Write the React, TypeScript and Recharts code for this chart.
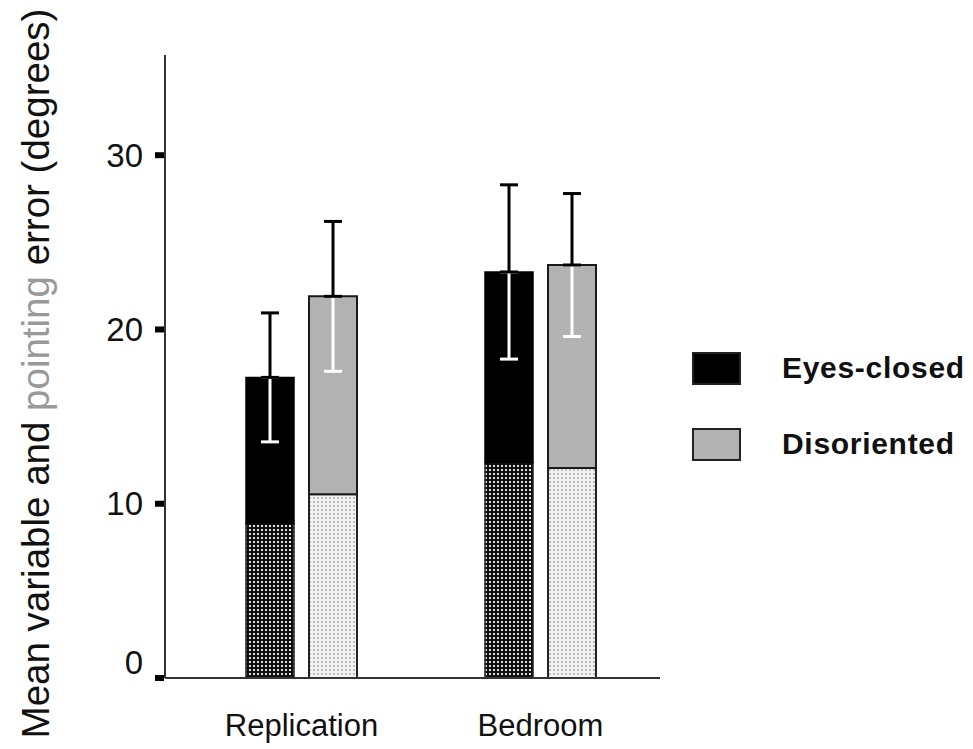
import { BarChart, Bar, XAxis, YAxis, ErrorBar, Legend, Label } from 'recharts';

// values (degrees)
const conditions = ['Replication', 'Bedroom'];
const eyesClosedVariable = [8.85, 12.35];
const eyesClosedTotal = [17.25, 23.3];
const eyesClosedSem = [3.7, 5.0];
const disorientedVariable = [10.55, 12.05];
const disorientedTotal = [21.9, 23.7];
const disorientedSem = [4.3, 4.1];
const yTicks = [0, 10, 20, 30];
const legendItems = [
  { label: 'Eyes-closed', fill: '#000000' },
  { label: 'Disoriented', fill: '#b2b2b2' },
];

const data = conditions.map((name, i) => ({
  name,
  ecBase: eyesClosedVariable[i],
  ecTop: eyesClosedTotal[i] - eyesClosedVariable[i],
  ecErr: eyesClosedSem[i],
  disBase: disorientedVariable[i],
  disTop: disorientedTotal[i] - disorientedVariable[i],
  disErr: disorientedSem[i],
}));

const font = '"Liberation Sans", Arial, sans-serif';

function YLabel(props: any) {
  const vb = props.viewBox || { x: 65, y: 55, height: 623 };
  const cx = 35;
  const cy = vb.y + vb.height / 2 + 7;
  return (
    <text
      x={cx}
      y={cy}
      transform={`rotate(-90, ${cx}, ${cy})`}
      textAnchor="middle"
      dominantBaseline="central"
      fontFamily={font}
      fontSize={38.5}
      fill="#111"
    >
      Mean variable and <tspan fill="#999">pointing</tspan> error (degrees)
    </text>
  );
}

// tick label plus the small square mark left of the axis
function YTick(props: any) {
  const { x, y, payload } = props;
  // the zero label sits a little above its tick in the original
  const dy = payload.value === 0 ? -16 : 0;
  return (
    <g>
      <rect x={x + 12} y={y - 3} width={9} height={6} fill="#000" />
      <text x={x} y={y + dy} textAnchor="end" dominantBaseline="central" fontSize={33} fill="#111" fontFamily={font}>
        {payload.value}
      </text>
    </g>
  );
}

function LegendBox() {
  return (
    <div style={{ fontFamily: font }}>
      {legendItems.map((item, i) => (
        <div
          key={item.label}
          style={{ display: 'flex', alignItems: 'center', height: 34, marginBottom: i === 0 ? 42 : 0 }}
        >
          <div
            style={{
              width: 49,
              height: 33,
              boxSizing: 'border-box',
              background: item.fill,
              border: '2px solid #222',
            }}
          />
          <span style={{ marginLeft: 41, fontSize: 30, fontWeight: 'bold', letterSpacing: 0.7, color: '#111' }}>
            {item.label}
          </span>
        </div>
      ))}
    </div>
  );
}

export default function App() {
  return (
    <div style={{ position: 'absolute', left: 0, top: 0, background: '#fff' }}>
      <BarChart
        width={973}
        height={749}
        data={data}
        margin={{ top: 55, right: 313, bottom: 11, left: 65 }}
        barSize={48}
        barGap={15}
      >
        <defs>
          <pattern id="ecHatch" width="4" height="4" patternUnits="userSpaceOnUse">
            <rect width="4" height="4" fill="#111" />
            <rect x="1" y="1" width="2" height="2" fill="#e0e0e0" />
          </pattern>
          <pattern id="disHatch" width="4" height="4" patternUnits="userSpaceOnUse">
            <rect width="4" height="4" fill="#f2f2f2" />
            <rect x="1" y="1" width="2" height="2" fill="#bbbbbb" />
          </pattern>
        </defs>
        <XAxis
          dataKey="name"
          height={60}
          padding={{ left: 17, right: 0 }}
          axisLine={{ stroke: '#333', strokeWidth: 2 }}
          tickLine={false}
          tickMargin={30}
          tick={{ fontSize: 31, fill: '#111', fontFamily: font }}
        />
        <YAxis
          width={100}
          domain={[0, 35.75]}
          ticks={yTicks}
          interval={0}
          axisLine={{ stroke: '#333', strokeWidth: 2 }}
          tickLine={false}
          tickSize={8}
          tickMargin={14}
          tick={YTick}
        >
          <Label content={YLabel} />
        </YAxis>
        <Legend
          layout="vertical"
          align="center"
          verticalAlign="middle"
          wrapperStyle={{ left: 692, top: 351, width: 281 }}
          content={LegendBox}
        />
        <Bar dataKey="ecBase" stackId="ec" fill="url(#ecHatch)" stroke="#222" strokeWidth={1.5} isAnimationActive={false} />
        <Bar dataKey="ecTop" stackId="ec" fill="#000" stroke="#000" strokeWidth={1.5} isAnimationActive={false}>
          <ErrorBar dataKey={(d: any) => [d.ecErr, 0]} width={9} stroke="#fff" strokeWidth={3} isAnimationActive={false} />
          <ErrorBar dataKey={(d: any) => [0, d.ecErr]} width={9} stroke="#000" strokeWidth={3} isAnimationActive={false} />
        </Bar>
        <Bar dataKey="disBase" stackId="dis" fill="url(#disHatch)" stroke="#222" strokeWidth={2} isAnimationActive={false} />
        <Bar dataKey="disTop" stackId="dis" fill="#b2b2b2" stroke="#1a1a1a" strokeWidth={2} isAnimationActive={false}>
          <ErrorBar dataKey={(d: any) => [d.disErr, 0]} width={9} stroke="#fff" strokeWidth={3} isAnimationActive={false} />
          <ErrorBar dataKey={(d: any) => [0, d.disErr]} width={9} stroke="#000" strokeWidth={3} isAnimationActive={false} />
        </Bar>
      </BarChart>
    </div>
  );
}
